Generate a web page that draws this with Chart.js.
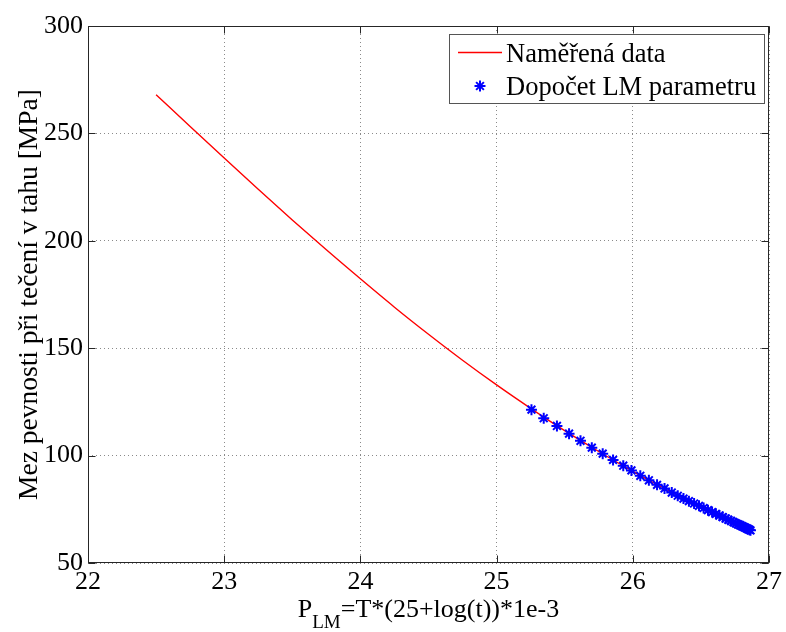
<!DOCTYPE html>
<html>
<head>
<meta charset="utf-8">
<script src="https://cdn.jsdelivr.net/npm/chart.js@4/dist/chart.umd.min.js"></script>
<style>
html,body{margin:0;padding:0;background:#fff;}
#wrap{width:786px;height:632px;}
</style>
</head>
<body>
<div id="wrap"><canvas id="c" width="786" height="632"></canvas></div>
<script>
// ---- data ----
const lineLabel = "Naměřená data";
const lineX = [22.5, 22.75, 23, 23.25, 23.5, 23.75, 24, 24.25, 24.5, 24.75, 25, 25.25, 25.5, 25.75, 26, 26.25, 26.5, 26.75, 26.864];
const lineY = [268, 253.2, 238.5, 224.0, 209.7, 195.8, 182.3, 169.1, 156.5, 144.4, 132.9, 122.0, 111.6, 101.9, 92.7, 84.1, 76.1, 68.5, 65.2];

const markerLabel = "Dopočet LM parametru";
const markerX = [25.256, 25.346, 25.443, 25.532, 25.616, 25.699, 25.779, 25.855, 25.930, 25.990,
                 26.055, 26.118, 26.178, 26.233, 26.286, 26.330, 26.372, 26.412, 26.450, 26.486,
                 26.520, 26.552, 26.582, 26.610, 26.636, 26.660, 26.682, 26.702, 26.721, 26.739,
                 26.756, 26.772, 26.787, 26.801, 26.814, 26.826, 26.837, 26.847, 26.856, 26.864];
const markerY = [121.4, 117.4, 113.8, 110.2, 106.9, 103.7, 100.9, 98.0, 95.3, 93.1,
                 90.6, 88.5, 86.4, 84.7, 82.8, 81.3, 80.0, 78.8, 77.7, 76.6,
                 75.6, 74.6, 73.7, 72.9, 72.1, 71.4, 70.7, 70.1, 69.6, 69.0,
                 68.5, 68.0, 67.6, 67.2, 66.8, 66.4, 66.1, 65.8, 65.5, 65.2];

const xTicks = [22, 23, 24, 25, 26, 27];
const yTicks = [50, 100, 150, 200, 250, 300];
const xTitleMain = "P";
const xTitleSub = "LM";
const xTitleRest = "=T*(25+log(t))*1e-3";
const yTitle = "Mez pevnosti při tečení v tahu [MPa]";

// ---- chart ----
const FONT = "'Liberation Serif'";
const toPts = (xs, ys) => xs.map((x, i) => ({x: x, y: ys[i]}));

const framePlugin = {
  id: 'frame',
  afterDraw(chart) {
    const ctx = chart.ctx;
    const a = chart.chartArea;
    const xs = chart.scales.x, ys = chart.scales.y;
    ctx.save();
    // axes box
    ctx.strokeStyle = '#262626';
    ctx.lineWidth = 1;
    const L = Math.round(a.left) + 0.5, R = Math.round(a.right) - 0.5;
    const T = Math.round(a.top) + 0.5, B = Math.round(a.bottom) - 0.5;
    ctx.strokeRect(L, T, R - L, B - T);
    // inward tick marks
    const tl = 7;
    ctx.beginPath();
    xs.ticks.forEach(t => {
      const p = Math.round(xs.getPixelForValue(t.value)) + 0.5;
      ctx.moveTo(p, B); ctx.lineTo(p, B - tl);
      ctx.moveTo(p, T); ctx.lineTo(p, T + tl);
    });
    ys.ticks.forEach(t => {
      const p = Math.round(ys.getPixelForValue(t.value)) + 0.5;
      ctx.moveTo(L, p); ctx.lineTo(L + tl, p);
      ctx.moveTo(R, p); ctx.lineTo(R - tl, p);
    });
    ctx.stroke();

    // x-axis title with subscript
    ctx.fillStyle = '#000';
    ctx.textBaseline = 'alphabetic';
    ctx.textAlign = 'left';
    const big = "26px " + FONT, small = "19px " + FONT;
    ctx.font = big;
    const w1 = ctx.measureText(xTitleMain).width;
    const w3 = ctx.measureText(xTitleRest).width;
    ctx.font = small;
    const w2 = ctx.measureText(xTitleSub).width;
    const cx = (a.left + a.right) / 2;
    let sx = cx - (w1 + w2 + w3) / 2;
    const base = 617;
    ctx.font = big;  ctx.fillText(xTitleMain, sx, base); sx += w1;
    ctx.font = small; ctx.fillText(xTitleSub, sx, base + 11); sx += w2;
    ctx.font = big;  ctx.fillText(xTitleRest, sx, base);

    // legend
    const lx = 449, ly = 34, lw = 315, lh = 69;
    ctx.fillStyle = '#fff';
    ctx.fillRect(lx, ly, lw, lh);
    ctx.strokeStyle = '#555';
    ctx.lineWidth = 1;
    ctx.strokeRect(lx + 0.5, ly + 0.5, lw, lh);
    const ds0 = chart.data.datasets[0], ds1 = chart.data.datasets[1];
    // row 1: line
    ctx.strokeStyle = ds0.borderColor;
    ctx.lineWidth = ds0.borderWidth;
    ctx.beginPath(); ctx.moveTo(458, 52.5); ctx.lineTo(502, 52.5); ctx.stroke();
    // row 2: marker
    ctx.strokeStyle = ds1.pointBorderColor;
    ctx.fillStyle = ds1.pointBackgroundColor;
    ctx.lineWidth = ds1.pointBorderWidth;
    Chart.helpers.drawPoint(ctx, {
      pointStyle: ds1.pointStyle, radius: ds1.pointRadius, rotation: 0,
      borderWidth: ds1.pointBorderWidth
    }, 480, 86);
    ctx.fillStyle = '#000';
    ctx.font = "26.5px " + FONT;
    ctx.fillText(ds0.label, 506, 62);
    ctx.fillText(ds1.label, 506, 95);
    ctx.restore();
  }
};

function build() {
  new Chart(document.getElementById('c'), {
    type: 'scatter',
    data: {
      datasets: [
        {
          label: lineLabel,
          data: toPts(lineX, lineY),
          showLine: true,
          borderColor: '#ff0000',
          backgroundColor: '#ff0000',
          borderWidth: 1.4,
          pointRadius: 0,
          cubicInterpolationMode: 'monotone',
          order: 2
        },
        {
          label: markerLabel,
          data: toPts(markerX, markerY),
          showLine: false,
          pointStyle: 'star',
          pointRadius: 5.5,
          pointBorderWidth: 2,
          pointBorderColor: '#0000ff',
          pointBackgroundColor: '#0000ff',
          borderColor: '#0000ff',
          backgroundColor: '#0000ff',
          order: 1
        }
      ]
    },
    options: {
      responsive: false,
      animation: false,
      layout: { padding: { top: 26, right: 17, left: 0, bottom: 0 } },
      plugins: { legend: { display: false }, tooltip: { enabled: false } },
      scales: {
        x: {
          type: 'linear', min: 22, max: 27,
          afterFit(s) { s.height = 69; },
          afterBuildTicks(s) { s.ticks = xTicks.map(v => ({value: v})); },
          grid: { color: '#8a8a8a', lineWidth: 1, drawTicks: false },
          border: { display: false, dash: [1, 3] },
          ticks: { color: '#000', padding: 4, font: { family: FONT, size: 26 }, maxRotation: 0 }
        },
        y: {
          type: 'linear', min: 50, max: 300,
          afterFit(s) { s.width = 88; },
          afterBuildTicks(s) { s.ticks = yTicks.map(v => ({value: v})); },
          grid: { color: '#8a8a8a', lineWidth: 1, drawTicks: false },
          border: { display: false, dash: [1, 3] },
          ticks: { color: '#000', padding: 5, font: { family: FONT, size: 26 } },
          title: { display: true, text: yTitle, color: '#000', font: { family: FONT, size: 27.5 }, padding: { top: 13, bottom: 0 } }
        }
      }
    },
    plugins: [framePlugin]
  });
}

let built = false;
function go() { if (!built) { built = true; build(); } }
if (document.fonts && document.fonts.load) {
  document.fonts.load("26px 'Liberation Serif'").then(go, go);
  setTimeout(go, 1500);
} else {
  go();
}
</script>
</body>
</html>
